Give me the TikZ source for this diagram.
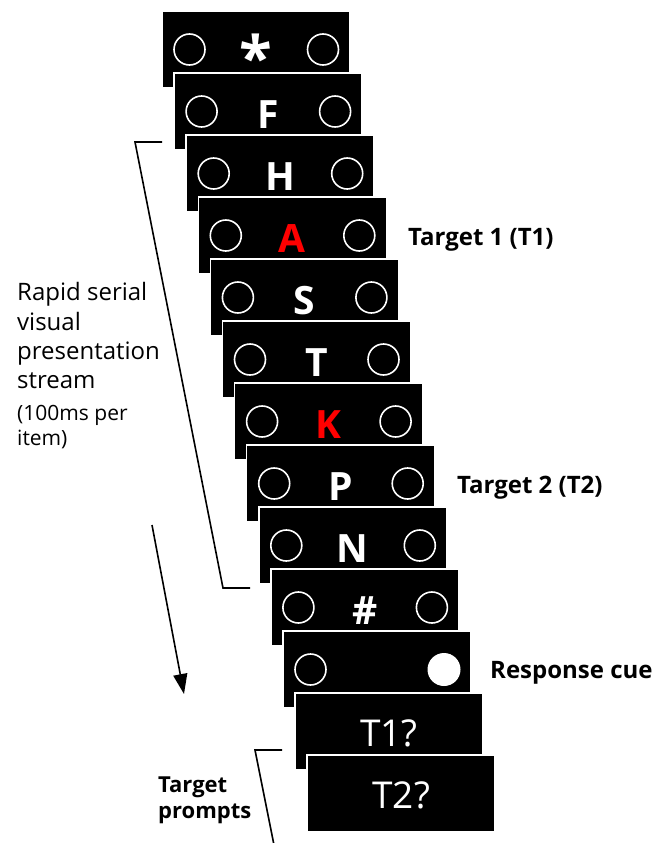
\documentclass[tikz,border=0pt]{standalone}
\usepackage{fontspec}
\setmainfont{Open Sans}
\usetikzlibrary{arrows.meta}
\begin{document}
\begin{tikzpicture}[x=1pt,y=-1pt,
  card/.style={rectangle, draw=white, line width=1.5pt, fill=black,
    minimum width=188pt, minimum height=77pt, inner sep=0pt},
  ring/.style={circle, draw=white, line width=1.6pt, minimum size=31pt, inner sep=0pt},
  dot/.style={circle, fill=white, minimum size=33pt, inner sep=0pt},
  sym/.style={anchor=base, inner sep=0pt, font=\fontsize{39}{39}\selectfont\bfseries},
  prompt/.style={anchor=base, inner sep=0pt, text=white, font=\fontsize{37}{37}\selectfont},
  lbl/.style={anchor=base west, inner sep=0pt, font=\fontsize{24}{28}\selectfont\bfseries},
  lbls/.style={anchor=base west, inner sep=0pt, font=\fontsize{22}{26}\selectfont\bfseries},
  rsv/.style={anchor=base west, inner sep=0pt, font=\fontsize{24}{28}\selectfont},
  rsvs/.style={anchor=base west, inner sep=0pt, font=\fontsize{21}{24}\selectfont},
  conn/.style={line width=1.6pt, line join=miter},
]
\useasboundingbox (0,0) rectangle (654,843);

% stimulus cards with symbols
\foreach \i/\s/\c in {0/{}/white, 1/F/white, 2/H/white, 3/A/red, 4/S/white, 5/T/white,
  6/K/red, 7/P/white, 8/N/white, 9/{\#}/white}{
  \node[card] (c\i) at ({256+12.1*\i},{49.5+62*\i}) {};
  \node[ring] (l\i) at ({256+12.1*\i-66.5},{49.5+62*\i}) {};
  \node[ring] (r\i) at ({256+12.1*\i+67},{49.5+62*\i}) {};
  \node[sym, text=\c] (s\i) at ({256+12.1*\i},{49.5+62*\i+17}) {\s};
}
\node[inner sep=0pt, text=white, font=\fontsize{60}{60}\selectfont\bfseries] (ast) at (256,57) {*};

% response cue card
\node[card] (c10) at ({256+12.1*10},{49.5+62*10}) {};
\node[ring] (l10) at ({256+12.1*10-66.5},{49.5+62*10}) {};
\node[dot] (r10) at ({256+12.1*10+67},{49.5+62*10}) {};

% prompt cards
\node[card] (c11) at ({256+12.1*11},{49.5+62*11}) {};
\node[prompt] (p11) at ({256+12.1*11},{49.5+62*11+15}) {T1?};
\node[card] (c12) at ({256+12.1*12},{49.5+62*12}) {};
\node[prompt] (p12) at ({256+12.1*12},{49.5+62*12+15}) {T2?};

% right labels
\node[lbl] (t1) at (408,245) {Target 1 (T1)};
\node[lbl] (t2) at (457,493) {Target 2 (T2)};
\node[lbl] (rc) at (490,678) {Response cue};

% left label
\node[rsv] (a1) at (17,300) {Rapid serial};
\node[rsv] (a2) at (17,330) {visual};
\node[rsv] (a3) at (17,359) {presentation};
\node[rsv] (a4) at (17,388) {stream};
\node[rsvs] (a5) at (17,420) {(100ms per};
\node[rsvs] (a6) at (17,445) {item)};

\node[lbls] (tp1) at (158,792) {Target};
\node[lbls] (tp2) at (158,818) {prompts};

% brackets and arrow
\coordinate (b1) at (162,142);
\coordinate (b2) at (135,142);
\coordinate (b3) at (223,588);
\coordinate (b4) at (250,588);
\draw[conn] (b1) -- (b2) -- (b3) -- (b4);

\coordinate (ar1) at (152,525);
\coordinate (ar2) at (184,694);
\draw[conn, -{Triangle[length=20pt,width=14pt]}] (ar1) -- (ar2);

\coordinate (q1) at (282,750);
\coordinate (q2) at (255,750);
\coordinate (q3) at (274,845);
\draw[conn] (q1) -- (q2) -- (q3);
\end{tikzpicture}
\end{document}
